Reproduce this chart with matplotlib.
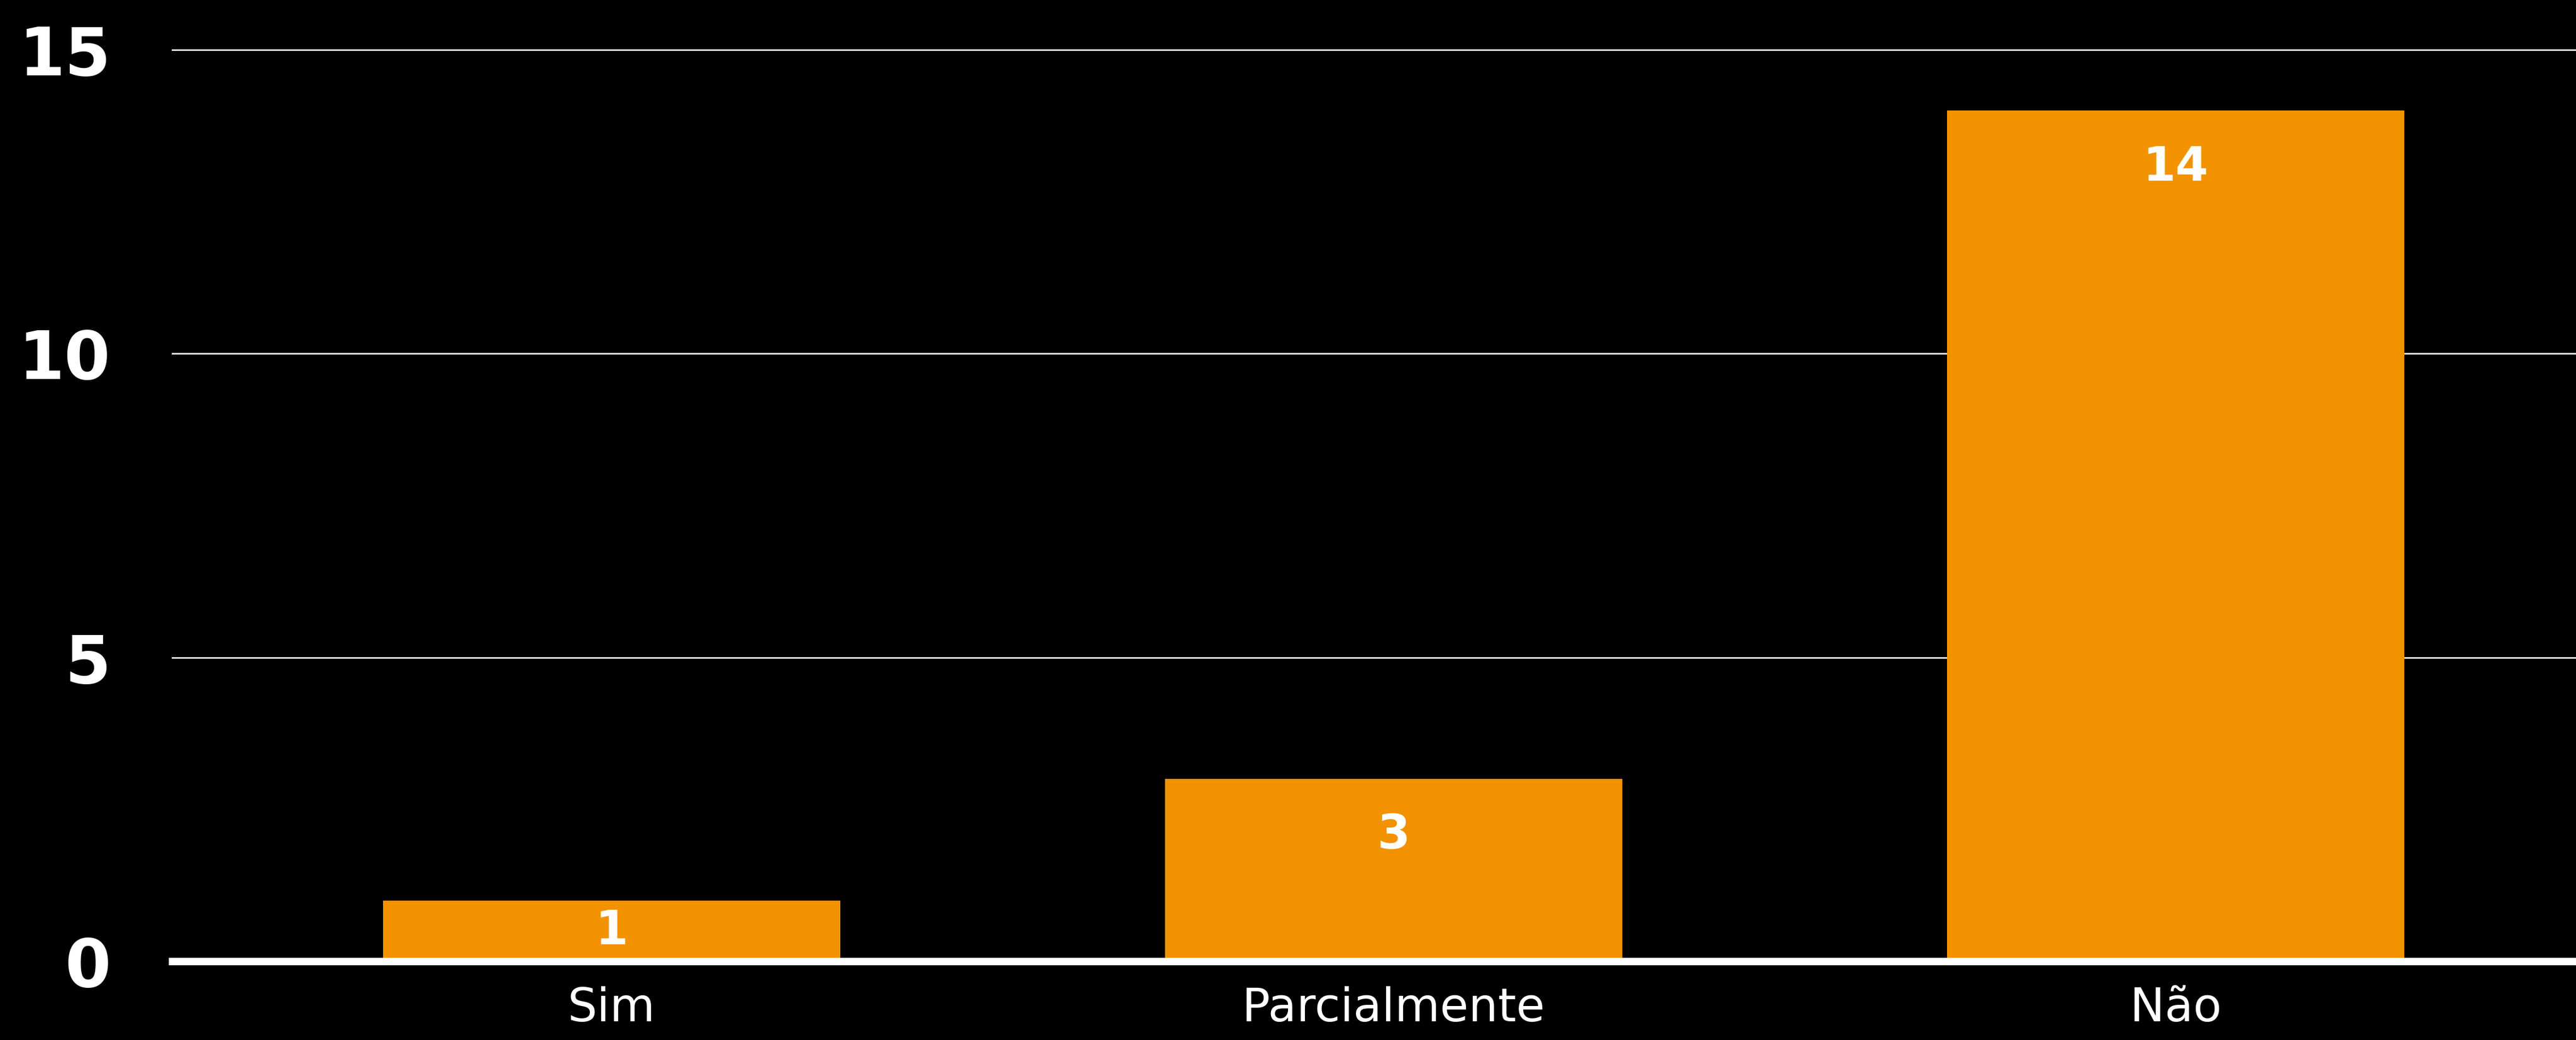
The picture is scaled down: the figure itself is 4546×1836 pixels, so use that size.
import matplotlib
matplotlib.use("Agg")
import matplotlib.pyplot as plt

# Respostas
categories = ["Sim", "Parcialmente", "Não"]
counts = [1, 3, 14]
y_ticks = [0, 5, 10, 15]

bar_color = "#f29200"

W, H = 4546, 1836
fig = plt.figure(figsize=(W / 100, H / 100), dpi=100, facecolor="black")
ax = fig.add_axes([304 / W, (H - 1697) / H, 1 - 304 / W, (1697 - 88) / H])
ax.set_facecolor("black")

x = range(len(categories))
bars = ax.bar(x, counts, width=0.585, color=bar_color, zorder=2)

ax.set_xlim(-0.562, 2.512)
ax.set_ylim(0, 15)
ax.set_yticks(y_ticks)
ax.set_yticklabels([str(t) for t in y_ticks], fontsize=84, fontweight="heavy",
                   color="white", family="DejaVu Sans")
ax.set_xticks(list(x))
ax.set_xticklabels(categories, fontsize=59, color="white", family="DejaVu Sans")
ax.tick_params(axis="y", length=0, pad=78)
ax.tick_params(axis="x", length=0, pad=32)

ax.grid(axis="y", color="#e8e8e8", linewidth=2, zorder=1)
for line in ax.get_ygridlines():
    line.set_clip_on(False)
for side in ["top", "right", "left"]:
    ax.spines[side].set_visible(False)
ax.spines["bottom"].set_color("white")
ax.spines["bottom"].set_linewidth(9.5)
ax.spines["bottom"].set_zorder(3)

# valores dentro das barras
for rect, v in zip(bars, counts):
    y_lab = max(v - 0.93, v / 2)
    ax.text(rect.get_x() + rect.get_width() / 2, y_lab, str(v), ha="center",
            va="center", fontsize=60, fontweight="bold", color="white", zorder=4)

fig.savefig("out.png", dpi=100, facecolor="black")
